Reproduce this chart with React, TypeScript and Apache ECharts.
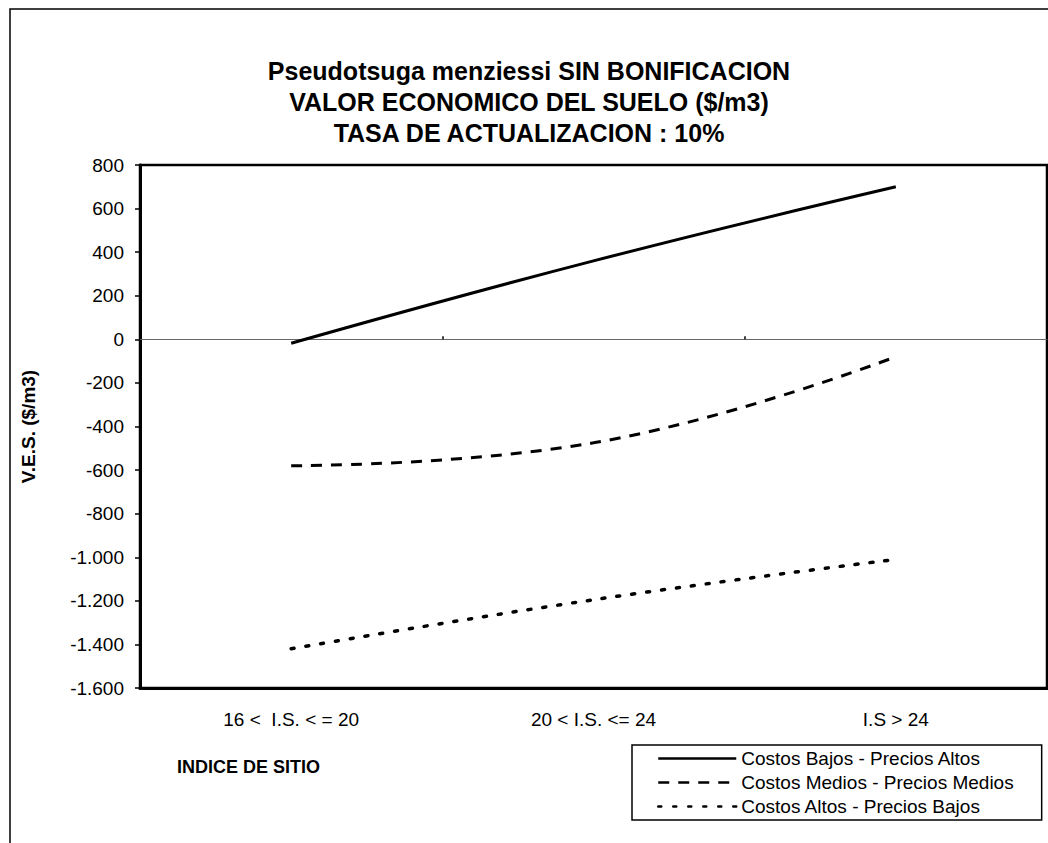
import React, { useEffect, useRef } from "react";
import * as echarts from "echarts";

const categories = ["16 <  I.S. < = 20", "20 < I.S. <= 24", "I.S > 24"];
const seriesNames = [
  "Costos Bajos - Precios Altos",
  "Costos Medios - Precios Medios",
  "Costos Altos - Precios Bajos",
];
const bajosAltos = [-18, 360, 700];
const mediosMedios = [-580, -475, -80];
const altosBajos = [-1420, -1195, -1010];
const titleLines = [
  "Pseudotsuga menziessi SIN BONIFICACION",
  "VALOR ECONOMICO DEL SUELO ($/m3)",
  "TASA DE ACTUALIZACION : 10%",
];
const yMin = -1600;
const yMax = 800;
const yStep = 200;

const FONT = "'Liberation Sans', Arial, sans-serif";

function fmt(v: number): string {
  const a = Math.abs(v);
  const s = a >= 1000 ? Math.floor(a / 1000) + "." + String(a % 1000).padStart(3, "0") : String(a);
  return (v < 0 ? "-" : "") + s;
}

export default function App() {
  const ref = useRef<HTMLDivElement>(null);
  useEffect(() => {
    if (!ref.current) return;
    const chart = echarts.init(ref.current, null, { renderer: "svg" });
    const lineBase = { type: "line", symbol: "none", smooth: 0.45, xAxisIndex: 0, yAxisIndex: 0 };
    chart.setOption({
      animation: false,
      backgroundColor: "#fff",
      textStyle: { fontFamily: FONT, color: "#000" },
      title: {
        text: titleLines.join("\n"),
        left: 524,
        textAlign: "center",
        top: 50,
        textStyle: { fontFamily: FONT, fontSize: 25, fontWeight: "bold", color: "#000", lineHeight: 31 },
      },
      grid: {
        left: 140,
        right: 1,
        top: 165,
        bottom: 155,
        show: true,
        borderColor: "#000",
        borderWidth: 2.5,
        backgroundColor: "transparent",
      },
      legend: {
        orient: "vertical",
        left: 632,
        top: 745,
        padding: [4, 28, 4, 25],
        itemWidth: 78,
        itemHeight: 18,
        itemGap: 5,
        borderColor: "#000",
        borderWidth: 1.5,
        backgroundColor: "#fff",
        itemStyle: { opacity: 0 },
        lineStyle: { width: 2.5 },
        textStyle: { fontFamily: FONT, fontSize: 19, color: "#000" },
        data: seriesNames,
      },
      xAxis: [
        {
          type: "category",
          data: categories,
          position: "bottom",
          axisLine: { show: true, onZero: false, lineStyle: { color: "#000", width: 3 } },
          axisTick: { show: false },
          axisLabel: { fontFamily: FONT, fontSize: 19, color: "#000", margin: 22, interval: 0 },
          splitLine: { show: false },
        },
        {
          type: "category",
          data: categories,
          position: "bottom",
          axisLine: { show: true, onZero: true, lineStyle: { color: "#666", width: 1 } },
          axisTick: { show: true, inside: true, length: 3, lineStyle: { color: "#000", width: 1.5 } },
          axisLabel: { show: false },
          splitLine: { show: false },
        },
      ],
      yAxis: {
        type: "value",
        min: yMin,
        max: yMax,
        interval: yStep,
        name: "V.E.S. ($/m3)",
        nameLocation: "middle",
        nameGap: 102,
        nameTextStyle: { fontFamily: FONT, fontSize: 19, fontWeight: "bold", color: "#000" },
        axisLine: { show: true, lineStyle: { color: "#000", width: 3 } },
        axisTick: { show: true, length: 5, lineStyle: { color: "#000", width: 1.5 } },
        axisLabel: { fontFamily: FONT, fontSize: 19, color: "#000", margin: 16, formatter: fmt },
        splitLine: { show: false },
      },
      graphic: [
        {
          type: "rect",
          shape: { x: 10, y: 9, width: 1200, height: 1000 },
          style: { fill: "none", stroke: "#000", lineWidth: 1.5 },
          silent: true,
          z: 0,
        },
        {
          type: "text",
          left: 177,
          top: 758,
          style: { text: "INDICE DE SITIO", font: `bold 18px ${FONT}`, fill: "#000" },
        },
      ],
      series: [
        {
          ...lineBase,
          name: seriesNames[0],
          data: bajosAltos,
          lineStyle: { color: "#000", width: 3, type: "solid" },
          itemStyle: { color: "#000" },
        },
        {
          ...lineBase,
          name: seriesNames[1],
          data: mediosMedios,
          lineStyle: { color: "#000", width: 3, type: [11, 9] },
          itemStyle: { color: "#000" },
        },
        {
          ...lineBase,
          name: seriesNames[2],
          data: altosBajos,
          lineStyle: { color: "#000", width: 3.5, type: [3, 12], cap: "round" },
          itemStyle: { color: "#000" },
        },
      ],
    });
    return () => chart.dispose();
  }, []);
  return (
    <div
      ref={ref}
      style={{ position: "absolute", left: 0, top: 0, width: 1048, height: 843, background: "#fff" }}
    />
  );
}
